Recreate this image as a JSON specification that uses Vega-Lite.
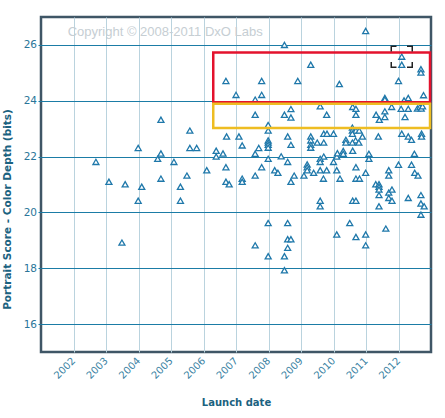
{
  "$schema": "https://vega.github.io/schema/vega-lite/v6.json",
  "autosize": "none",
  "width": 390,
  "height": 335,
  "padding": {"left": 41, "top": 17, "right": 14, "bottom": 66},
  "background": "white",
  "config": {
    "font": "DejaVu Sans",
    "view": {"stroke": "#3f5666", "strokeWidth": 2.5}
  },
  "datasets": {
    "cameras": [
      {"d": 2010.99, "s": 26.5}, {"d": 2008.49, "s": 26.0}, {"d": 2012.10, "s": 25.58, "sel": true},
      {"d": 2012.10, "s": 25.29}, {"d": 2009.30, "s": 25.29}, {"d": 2012.69, "s": 25.13},
      {"d": 2012.69, "s": 25.01}, {"d": 2006.69, "s": 24.71}, {"d": 2007.79, "s": 24.71},
      {"d": 2008.90, "s": 24.71}, {"d": 2012.00, "s": 24.71}, {"d": 2010.18, "s": 24.6},
      {"d": 2007.00, "s": 24.21}, {"d": 2007.79, "s": 24.21}, {"d": 2012.77, "s": 24.2},
      {"d": 2007.59, "s": 24.04}, {"d": 2011.58, "s": 24.1}, {"d": 2011.58, "s": 24.04},
      {"d": 2012.30, "s": 24.1}, {"d": 2012.17, "s": 24.01}, {"d": 2009.59, "s": 23.8},
      {"d": 2010.59, "s": 23.78}, {"d": 2010.69, "s": 23.71}, {"d": 2008.69, "s": 23.7},
      {"d": 2011.79, "s": 23.78}, {"d": 2012.08, "s": 23.71}, {"d": 2012.30, "s": 23.71},
      {"d": 2012.58, "s": 23.72}, {"d": 2012.66, "s": 23.78}, {"d": 2012.70, "s": 23.72},
      {"d": 2012.74, "s": 23.8}, {"d": 2011.58, "s": 23.62}, {"d": 2007.59, "s": 23.5},
      {"d": 2008.49, "s": 23.5}, {"d": 2008.69, "s": 23.4}, {"d": 2009.79, "s": 23.5},
      {"d": 2010.69, "s": 23.5}, {"d": 2011.31, "s": 23.5}, {"d": 2011.41, "s": 23.32},
      {"d": 2011.58, "s": 23.42}, {"d": 2012.20, "s": 23.42}, {"d": 2004.69, "s": 23.32},
      {"d": 2007.99, "s": 23.13}, {"d": 2007.99, "s": 22.93}, {"d": 2005.58, "s": 22.93},
      {"d": 2010.58, "s": 23.04}, {"d": 2010.58, "s": 22.93}, {"d": 2010.69, "s": 22.93},
      {"d": 2010.79, "s": 22.93}, {"d": 2010.58, "s": 22.82}, {"d": 2006.71, "s": 22.72},
      {"d": 2007.09, "s": 22.72}, {"d": 2008.59, "s": 22.72}, {"d": 2009.30, "s": 22.72},
      {"d": 2009.70, "s": 22.82}, {"d": 2009.80, "s": 22.82}, {"d": 2010.00, "s": 22.82},
      {"d": 2010.89, "s": 22.72}, {"d": 2011.38, "s": 22.72}, {"d": 2012.10, "s": 22.82},
      {"d": 2012.30, "s": 22.72}, {"d": 2012.40, "s": 22.6}, {"d": 2012.71, "s": 22.82},
      {"d": 2012.71, "s": 22.72}, {"d": 2007.99, "s": 22.58}, {"d": 2007.99, "s": 22.5},
      {"d": 2007.99, "s": 22.42}, {"d": 2007.99, "s": 22.32}, {"d": 2008.69, "s": 22.42},
      {"d": 2009.30, "s": 22.58}, {"d": 2009.30, "s": 22.42}, {"d": 2009.30, "s": 22.32},
      {"d": 2009.50, "s": 22.5}, {"d": 2009.70, "s": 22.5}, {"d": 2010.38, "s": 22.6},
      {"d": 2010.38, "s": 22.5}, {"d": 2010.68, "s": 22.58}, {"d": 2010.58, "s": 22.5},
      {"d": 2010.78, "s": 22.5}, {"d": 2007.19, "s": 22.4}, {"d": 2007.70, "s": 22.31},
      {"d": 2003.99, "s": 22.31}, {"d": 2005.58, "s": 22.31}, {"d": 2005.79, "s": 22.31},
      {"d": 2006.39, "s": 22.21}, {"d": 2006.39, "s": 22.0}, {"d": 2006.60, "s": 22.11},
      {"d": 2007.59, "s": 22.1}, {"d": 2008.39, "s": 22.01}, {"d": 2007.99, "s": 21.92},
      {"d": 2008.59, "s": 21.81}, {"d": 2009.19, "s": 21.72}, {"d": 2009.19, "s": 21.62},
      {"d": 2009.19, "s": 21.51}, {"d": 2009.70, "s": 22.0}, {"d": 2009.59, "s": 21.92},
      {"d": 2009.59, "s": 21.81}, {"d": 2010.00, "s": 21.81}, {"d": 2010.10, "s": 22.0},
      {"d": 2010.12, "s": 22.12}, {"d": 2010.30, "s": 22.2}, {"d": 2010.30, "s": 22.1},
      {"d": 2010.59, "s": 22.21}, {"d": 2011.09, "s": 22.1}, {"d": 2011.09, "s": 21.92},
      {"d": 2012.49, "s": 22.1}, {"d": 2012.00, "s": 21.71}, {"d": 2012.40, "s": 21.71},
      {"d": 2002.69, "s": 21.81}, {"d": 2003.09, "s": 21.1}, {"d": 2003.59, "s": 21.01},
      {"d": 2003.49, "s": 18.92}, {"d": 2004.10, "s": 20.92}, {"d": 2003.99, "s": 20.42},
      {"d": 2004.59, "s": 21.92}, {"d": 2004.69, "s": 22.11}, {"d": 2004.69, "s": 21.21},
      {"d": 2005.09, "s": 21.81}, {"d": 2005.29, "s": 20.92}, {"d": 2005.29, "s": 20.42},
      {"d": 2005.49, "s": 21.32}, {"d": 2006.10, "s": 21.51}, {"d": 2006.69, "s": 21.62},
      {"d": 2006.69, "s": 21.1}, {"d": 2006.79, "s": 21.01}, {"d": 2007.19, "s": 21.21},
      {"d": 2007.19, "s": 21.1}, {"d": 2007.59, "s": 21.32}, {"d": 2007.59, "s": 18.82},
      {"d": 2007.79, "s": 21.62}, {"d": 2007.99, "s": 19.62}, {"d": 2007.99, "s": 18.43},
      {"d": 2008.19, "s": 21.51}, {"d": 2008.29, "s": 21.42}, {"d": 2008.79, "s": 21.32},
      {"d": 2008.69, "s": 21.1}, {"d": 2008.59, "s": 19.62}, {"d": 2008.59, "s": 19.04},
      {"d": 2008.69, "s": 19.04}, {"d": 2008.59, "s": 18.73}, {"d": 2008.49, "s": 18.43},
      {"d": 2008.49, "s": 17.93}, {"d": 2009.09, "s": 21.32}, {"d": 2009.39, "s": 21.42},
      {"d": 2009.59, "s": 21.51}, {"d": 2009.79, "s": 21.51}, {"d": 2009.69, "s": 21.21},
      {"d": 2009.59, "s": 20.42}, {"d": 2009.59, "s": 20.22}, {"d": 2010.10, "s": 21.51},
      {"d": 2010.20, "s": 21.21}, {"d": 2010.10, "s": 19.21}, {"d": 2010.50, "s": 19.62},
      {"d": 2010.69, "s": 21.62}, {"d": 2010.69, "s": 21.21}, {"d": 2010.80, "s": 21.21},
      {"d": 2010.59, "s": 20.42}, {"d": 2010.69, "s": 20.42}, {"d": 2010.69, "s": 19.12},
      {"d": 2010.99, "s": 21.42}, {"d": 2010.99, "s": 19.21}, {"d": 2010.99, "s": 18.82},
      {"d": 2011.30, "s": 21.01}, {"d": 2011.40, "s": 21.01}, {"d": 2011.40, "s": 20.92},
      {"d": 2011.40, "s": 20.82}, {"d": 2011.40, "s": 20.62}, {"d": 2011.40, "s": 20.22},
      {"d": 2011.61, "s": 19.42}, {"d": 2011.70, "s": 21.51}, {"d": 2011.70, "s": 21.32},
      {"d": 2011.70, "s": 20.71}, {"d": 2011.70, "s": 20.52}, {"d": 2011.80, "s": 20.82},
      {"d": 2011.80, "s": 20.42}, {"d": 2012.30, "s": 20.52}, {"d": 2012.50, "s": 21.42},
      {"d": 2012.60, "s": 21.32}, {"d": 2012.69, "s": 20.62}, {"d": 2012.69, "s": 20.32},
      {"d": 2012.79, "s": 20.22}, {"d": 2012.69, "s": 19.92}
    ],
    "boxes": [
      {"box": "high", "x1": 2006.3, "x2": 2012.97, "y1": 23.95, "y2": 25.73},
      {"box": "mid", "x1": 2006.3, "x2": 2012.97, "y1": 23.02, "y2": 23.89}
    ]
  },
  "layer": [
    {
      "data": {"name": "cameras"},
      "mark": {
        "type": "point",
        "shape": "triangle-up",
        "size": 36,
        "filled": true,
        "fill": "white",
        "stroke": "#1f78aa",
        "strokeWidth": 1.3,
        "opacity": 1
      },
      "encoding": {
        "x": {
          "field": "d",
          "type": "quantitative",
          "scale": {"domain": [2001, 2013], "nice": false, "zero": false},
          "axis": {
            "values": [2002, 2003, 2004, 2005, 2006, 2007, 2008, 2009, 2010, 2011, 2012],
            "tickCount": 20,
            "format": "d",
            "title": "Launch date",
            "titleFont": "DejaVu Sans",
            "titleFontSize": 10,
            "titleFontWeight": "bold",
            "titleColor": "#1b6280",
            "titleBaseline": "middle",
            "titleY": 50,
            "labelAngle": -45,
            "labelAlign": "right",
            "labelBaseline": "middle",
            "labelOverlap": false,
            "labelFontSize": 10,
            "labelColor": "#3a82a3",
            "labelPadding": 7,
            "ticks": false,
            "domain": false,
            "grid": true,
            "gridColor": "#bad3de",
            "gridWidth": 1
          }
        },
        "y": {
          "field": "s",
          "type": "quantitative",
          "scale": {"domain": [15, 27], "nice": false, "zero": false},
          "axis": {
            "values": [16, 18, 20, 22, 24, 26],
            "tickCount": 20,
            "format": "d",
            "title": "Portrait Score - Color Depth (bits)",
            "titleFont": "DejaVu Sans",
            "titleFontSize": 10.5,
            "titleFontWeight": "bold",
            "titleColor": "#1b6280",
            "titleX": -29,
            "titleY": 192,
            "labelFontSize": 10.5,
            "labelColor": "#2a7599",
            "labelPadding": 1.5,
            "labelOverlap": false,
            "tickSize": 3,
            "tickColor": "#1b7ca6",
            "domain": false,
            "grid": true,
            "gridColor": "#1b7ca6",
            "gridWidth": 1.2
          }
        }
      }
    },
    {
      "data": {"name": "boxes"},
      "mark": {"type": "rect", "fill": null, "fillOpacity": 0, "strokeWidth": 2.5},
      "encoding": {
        "x": {"field": "x1", "type": "quantitative"},
        "x2": {"field": "x2"},
        "y": {"field": "y1", "type": "quantitative"},
        "y2": {"field": "y2"},
        "stroke": {
          "field": "box",
          "type": "nominal",
          "scale": {"domain": ["high", "mid"], "range": ["#e3122d", "#eebd22"]},
          "legend": null
        }
      }
    },
    {
      "data": {"name": "cameras"},
      "transform": [{"filter": "datum.sel === true"}],
      "mark": {
        "type": "point",
        "shape": "square",
        "size": 441,
        "filled": false,
        "stroke": "#222222",
        "strokeWidth": 1.5,
        "strokeDash": [10.5, 10.5],
        "strokeDashOffset": 5.25,
        "opacity": 1
      },
      "encoding": {
        "x": {"field": "d", "type": "quantitative"},
        "y": {"field": "s", "type": "quantitative"}
      }
    },
    {
      "data": {"values": [{"note": "Copyright © 2008-2011 DxO Labs"}]},
      "mark": {
        "type": "text",
        "font": "Liberation Sans",
        "fontSize": 13,
        "color": "#c6ced3",
        "align": "left",
        "baseline": "middle"
      },
      "encoding": {
        "text": {"field": "note"},
        "x": {"datum": 2001.82},
        "y": {"datum": 26.46}
      }
    }
  ]
}
